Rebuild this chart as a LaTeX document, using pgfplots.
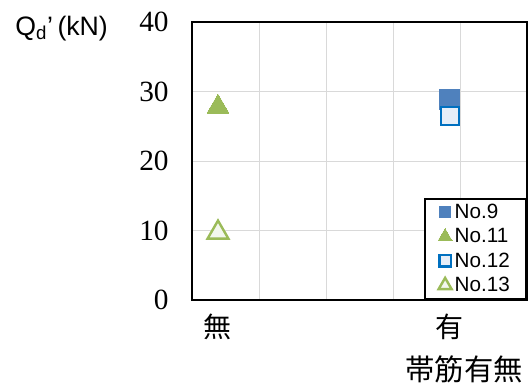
\documentclass[border=0pt]{standalone}
\usepackage{pgfplots}
\pgfplotsset{compat=1.18}
\usepackage{fontspec}
\setmainfont{Liberation Sans}
\newfontfamily\serif{Liberation Serif}
\newfontfamily\cjk{Noto Sans CJK JP}
\definecolor{c9}{HTML}{4F81BD}
\definecolor{c11}{HTML}{9BBB59}
\definecolor{c12}{HTML}{0070C0}
\definecolor{c12f}{HTML}{E6EEF8}
\definecolor{c13f}{HTML}{F3F7EE}
\begin{document}
\begin{tikzpicture}
\begin{axis}[
  scale only axis, width=251.25pt, height=208.5pt,
  xmin=0, xmax=5, ymin=0, ymax=40,
  xtick={1,2,3,4}, xticklabels={},
  ytick={0,10,20,30,40},
  grid=major, grid style={draw=black!15, line width=0.75pt},
  axis line style={line width=1.5pt},
  major tick length=0pt,
  /pgf/number format/assume math mode=true,
  yticklabel style={font=\serif\fontsize{22}{22}\selectfont, xshift=-14pt},
  extra x ticks={0.388,3.85}, extra x tick labels={無,有},
  extra x tick style={grid=none, xticklabel style={font=\cjk\fontsize{21}{21}\selectfont, yshift=-7pt}},
  legend style={at={(1,0)}, anchor=south east, draw=black, line width=1.7pt,
    font=\fontsize{15.5}{15.5}\selectfont, row sep=0pt, inner xsep=10pt, inner ysep=1pt,
    nodes={inner ysep=3pt}},
  legend cell align=left,
  clip=false,
]
\addplot[only marks, mark=square*, mark size=7.5pt, mark options={draw=c9, fill=c9, line width=0pt}, legend image post style={mark size=4.2pt}]
  coordinates {(3.85,28.9)};
\addlegendentry{No.9}
\addplot[only marks, mark=triangle*, mark size=9.5pt, mark options={draw=c11, fill=c11, line width=0pt}, legend image post style={mark size=6pt}]
  coordinates {(0.388,27.8)};
\addlegendentry{No.11}
\addplot[only marks, mark=square*, mark size=6.8pt, mark options={draw=c12, fill=c12f, line width=1.8pt}, legend image post style={mark size=4.2pt}]
  coordinates {(3.85,26.5)};
\addlegendentry{No.12}
\addplot[only marks, mark=triangle*, mark size=9pt, mark options={draw=c11, fill=c13f, line width=1.8pt}, legend image post style={mark size=5.6pt}]
  coordinates {(0.388,9.7)};
\addlegendentry{No.13}
\node[anchor=base west, inner sep=0pt, font=\fontsize{20}{20}\selectfont] at (rel axis cs:-0.528,0.953) {Q\textsubscript{d}’\,(kN)};
\node[anchor=east, inner sep=0pt, font=\cjk\fontsize{22}{22}\selectfont] at (rel axis cs:0.988,-0.25) {帯筋有無};
\end{axis}
\pgfresetboundingbox
\path (-144pt,-62.25pt) rectangle (253.5pt,225pt);
\end{tikzpicture}
\end{document}
